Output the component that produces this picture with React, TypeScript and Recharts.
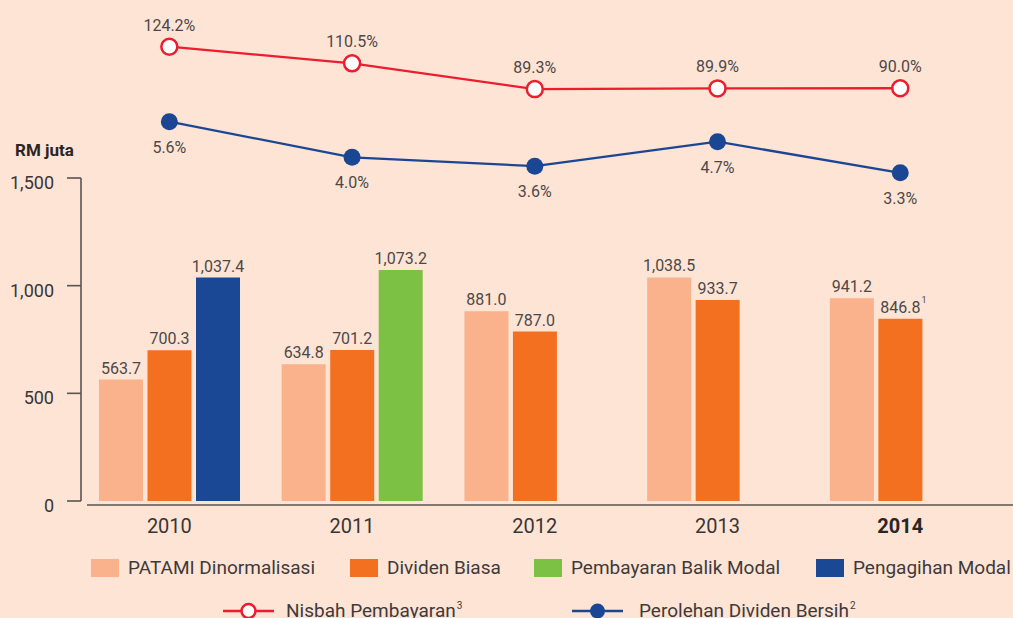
import React from 'react';
import { ComposedChart, Bar, Line, XAxis, YAxis, LabelList, Legend } from 'recharts';

// ---------- data ----------
const years = ['2010', '2011', '2012', '2013', '2014'];
const patami = [563.7, 634.8, 881.0, 1038.5, 941.2];
const dividenBiasa = [700.3, 701.2, 787.0, 933.7, 846.8];
const balikModal = [null, 1073.2, null, null, null];
const pengagihanModal = [1037.4, null, null, null, null];
const nisbahPembayaran = [124.2, 110.5, 89.3, 89.9, 90.0];
const perolehanDividen = [5.6, 4.0, 3.6, 4.7, 3.3];
const dividenNotes = ['', '', '', '', '1'];
const yTicks = [0, 500, 1000, 1500];
const boldYear = '2014';

const barLegend = [
  { label: 'PATAMI Dinormalisasi', key: 'patami' },
  { label: 'Dividen Biasa', key: 'dividen' },
  { label: 'Pembayaran Balik Modal', key: 'balik' },
  { label: 'Pengagihan Modal', key: 'pengagihan' },
];
const lineLegend = [
  { label: 'Nisbah Pembayaran', sup: '3', key: 'nisbah' },
  { label: 'Perolehan Dividen Bersih', sup: '2', key: 'perolehan' },
];

const data = years.map((year, i) => ({
  year,
  patami: patami[i],
  dividen: dividenBiasa[i],
  balik: balikModal[i],
  pengagihan: pengagihanModal[i],
  nisbah: nisbahPembayaran[i],
  perolehan: perolehanDividen[i],
  note: dividenNotes[i],
}));

// ---------- style / layout ----------
const W = 1013;
const H = 618;
const PLOT_LEFT = 81;
const PAD_LEFT = -3;
const PAD_RIGHT = 21.4;
const BAR_TOP = 178;
const BAR_BOTTOM = 501;
const BG = '#fde4d5';
const AXIS = '#5a5350';
const TEXT = '#4d4847';
const COLORS: Record<string, string> = {
  patami: '#f9b28b',
  dividen: '#f37021',
  balik: '#7cc143',
  pengagihan: '#1b4894',
  nisbah: '#ed1c2e',
  perolehan: '#1b4693',
};
const RATIO_DOMAIN: [number, number] = [-346.0, 162.64];
const YIELD_DOMAIN: [number, number] = [-16.71, 11.07];
const LEGEND_X = {
  patami: [91, 128],
  dividen: [350, 387],
  balik: [534, 571],
  pengagihan: [816, 853],
  nisbah: [223, 286],
  perolehan: [572, 639],
} as Record<string, number[]>;

const fmtNum = (v: number) =>
  v.toLocaleString('en-US', { minimumFractionDigits: 1, maximumFractionDigits: 1 });

const BarLabel = (props: any) => {
  const { x, y, width, value } = props;
  if (value === null || value === undefined) return null;
  const cx = Number(x) + Number(width) / 2;
  return (
    <text x={cx} y={Number(y) - 6} textAnchor="middle" fontSize={16} fill={TEXT}>
      {fmtNum(value)}
    </text>
  );
};

const DividenLabel = (props: any) => {
  const { x, y, width, value, index } = props;
  if (value === null || value === undefined) return null;
  const cx = Number(x) + Number(width) / 2;
  const note = data[index] ? data[index].note : '';
  return (
    <g>
      <text x={cx} y={Number(y) - 6} textAnchor="middle" fontSize={16} fill={TEXT}>
        {fmtNum(value)}
      </text>
      {note ? (
        <text x={cx + 21} y={Number(y) - 16} textAnchor="start" fontSize={9} fill={TEXT}>
          {note}
        </text>
      ) : null}
    </g>
  );
};

const RatioLabel = (props: any) => {
  const { x, y, value } = props;
  return (
    <text x={x} y={Number(y) - 16} textAnchor="middle" fontSize={16} fill={TEXT}>
      {`${Number(value).toFixed(1)}%`}
    </text>
  );
};

const YieldLabel = (props: any) => {
  const { x, y, value } = props;
  return (
    <text x={x} y={Number(y) + 31} textAnchor="middle" fontSize={16} fill={TEXT}>
      {`${Number(value).toFixed(1)}%`}
    </text>
  );
};

const XTick = (props: any) => {
  const { x, y, payload } = props;
  const bold = payload.value === boldYear;
  return (
    <text
      x={x}
      y={Number(y) + 32}
      textAnchor="middle"
      fontSize={20}
      fontWeight={bold ? 700 : 400}
      fill={bold ? '#2a2626' : '#3a3535'}
    >
      {payload.value}
    </text>
  );
};

const YTick = (props: any) => {
  const { x, y, payload } = props;
  return (
    <text x={x} y={Number(y) + 11} textAnchor="end" fontSize={18} fill="#3a3535">
      {payload.value.toLocaleString('en-US')}
    </text>
  );
};

const UnitLabel = () => (
  <text x={15} y={156} fontSize={17} fontWeight={700} fill="#2a2626">
    RM juta
  </text>
);

const LegendContent = () => (
  <div style={{ position: 'relative', width: W, height: 70, fontFamily: 'Roboto', color: '#3f3a3a' }}>
    {barLegend.map((item) => (
      <React.Fragment key={item.key}>
        <div
          style={{
            position: 'absolute',
            left: LEGEND_X[item.key][0],
            top: 11,
            width: 28,
            height: 18,
            background: COLORS[item.key],
          }}
        />
        <div
          style={{
            position: 'absolute',
            left: LEGEND_X[item.key][1],
            top: 10,
            height: 20,
            lineHeight: '20px',
            fontSize: 19,
            whiteSpace: 'nowrap',
          }}
        >
          {item.label}
        </div>
      </React.Fragment>
    ))}
    {lineLegend.map((item) => (
      <React.Fragment key={item.key}>
        <svg
          style={{ position: 'absolute', left: LEGEND_X[item.key][0], top: 52.7, overflow: 'visible' }}
          width={52}
          height={20}
        >
          <line x1={0} y1={10} x2={51} y2={10} stroke={COLORS[item.key]} strokeWidth={2.5} />
          {item.key === 'nisbah' ? (
            <circle cx={25.5} cy={10} r={7} fill="#fff" stroke={COLORS[item.key]} strokeWidth={2.5} />
          ) : (
            <circle cx={25.5} cy={10} r={7.5} fill={COLORS[item.key]} />
          )}
        </svg>
        <div
          style={{
            position: 'absolute',
            left: LEGEND_X[item.key][1],
            top: 52.6,
            height: 20,
            lineHeight: '20px',
            fontSize: 19,
            whiteSpace: 'nowrap',
          }}
        >
          {item.label}
          <span style={{ fontSize: 10, position: 'relative', top: -8, marginLeft: 1 }}>{item.sup}</span>
        </div>
      </React.Fragment>
    ))}
  </div>
);

const axisA = (1013 - 87) / (W - PLOT_LEFT);
const axisE = 87 - axisA * PLOT_LEFT;

export default function App() {
  return (
    <div
      style={{
        position: 'absolute',
        left: 0,
        top: 0,
        width: W,
        height: H,
        background: BG,
        overflow: 'hidden',
        fontFamily: 'Roboto',
      }}
    >
      <div style={{ position: 'absolute', left: 0, top: 0 }}>
        <ComposedChart
          width={W}
          height={H}
          data={data}
          margin={{ top: BAR_TOP, right: 0, bottom: 0, left: 0 }}
          barSize={44}
          barGap={4.5}
        >
          <XAxis
            dataKey="year"
            scale="band"
            height={H - BAR_BOTTOM}
            padding={{ left: PAD_LEFT, right: PAD_RIGHT }}
            tickLine={false}
            tickSize={0}
            tickMargin={0}
            tick={<XTick />}
            axisLine={{
              stroke: AXIS,
              strokeWidth: 1.6,
              transform: `matrix(${axisA} 0 0 1 ${axisE} 4)`,
            }}
          />
          <YAxis
            width={PLOT_LEFT}
            domain={[0, 1500]}
            allowDataOverflow
            ticks={yTicks}
            tickSize={14}
            tickMargin={13}
            tick={<YTick />}
            axisLine={{ stroke: AXIS, strokeWidth: 1.6 }}
            tickLine={{ stroke: AXIS, strokeWidth: 1.6 }}
            label={<UnitLabel />}
          />
          <Bar dataKey="patami" stackId="s1" fill={COLORS.patami} isAnimationActive={false}>
            <LabelList dataKey="patami" content={<BarLabel />} />
          </Bar>
          <Bar dataKey="dividen" stackId="s2" fill={COLORS.dividen} isAnimationActive={false}>
            <LabelList dataKey="dividen" content={<DividenLabel />} />
          </Bar>
          <Bar dataKey="balik" stackId="s3" fill={COLORS.balik} isAnimationActive={false}>
            <LabelList dataKey="balik" content={<BarLabel />} />
          </Bar>
          <Bar dataKey="pengagihan" stackId="s3" fill={COLORS.pengagihan} isAnimationActive={false}>
            <LabelList dataKey="pengagihan" content={<BarLabel />} />
          </Bar>
        </ComposedChart>
      </div>
      <div style={{ position: 'absolute', left: 0, top: 0 }}>
        <ComposedChart
          width={W}
          height={H}
          data={data}
          margin={{ top: 0, right: 0, bottom: 0, left: PLOT_LEFT }}
        >
          <XAxis dataKey="year" hide scale="band" padding={{ left: PAD_LEFT, right: PAD_RIGHT }} />
          <YAxis yAxisId="ratio" hide domain={RATIO_DOMAIN} allowDataOverflow />
          <YAxis yAxisId="yield" hide domain={YIELD_DOMAIN} allowDataOverflow />
          <Legend
            layout="horizontal"
            verticalAlign="middle"
            align="center"
            wrapperStyle={{ top: 548, left: 0, width: W, height: 70 }}
            content={<LegendContent />}
          />
          <Line
            yAxisId="ratio"
            dataKey="nisbah"
            stroke={COLORS.nisbah}
            strokeWidth={2.3}
            dot={{ r: 8, fill: '#fff', stroke: COLORS.nisbah, strokeWidth: 2.5 }}
            activeDot={false}
            isAnimationActive={false}
          >
            <LabelList dataKey="nisbah" content={<RatioLabel />} />
          </Line>
          <Line
            yAxisId="yield"
            dataKey="perolehan"
            stroke={COLORS.perolehan}
            strokeWidth={2.3}
            dot={{ r: 8.5, fill: COLORS.perolehan, stroke: COLORS.perolehan, strokeWidth: 0 }}
            activeDot={false}
            isAnimationActive={false}
          >
            <LabelList dataKey="perolehan" content={<YieldLabel />} />
          </Line>
        </ComposedChart>
      </div>
    </div>
  );
}
